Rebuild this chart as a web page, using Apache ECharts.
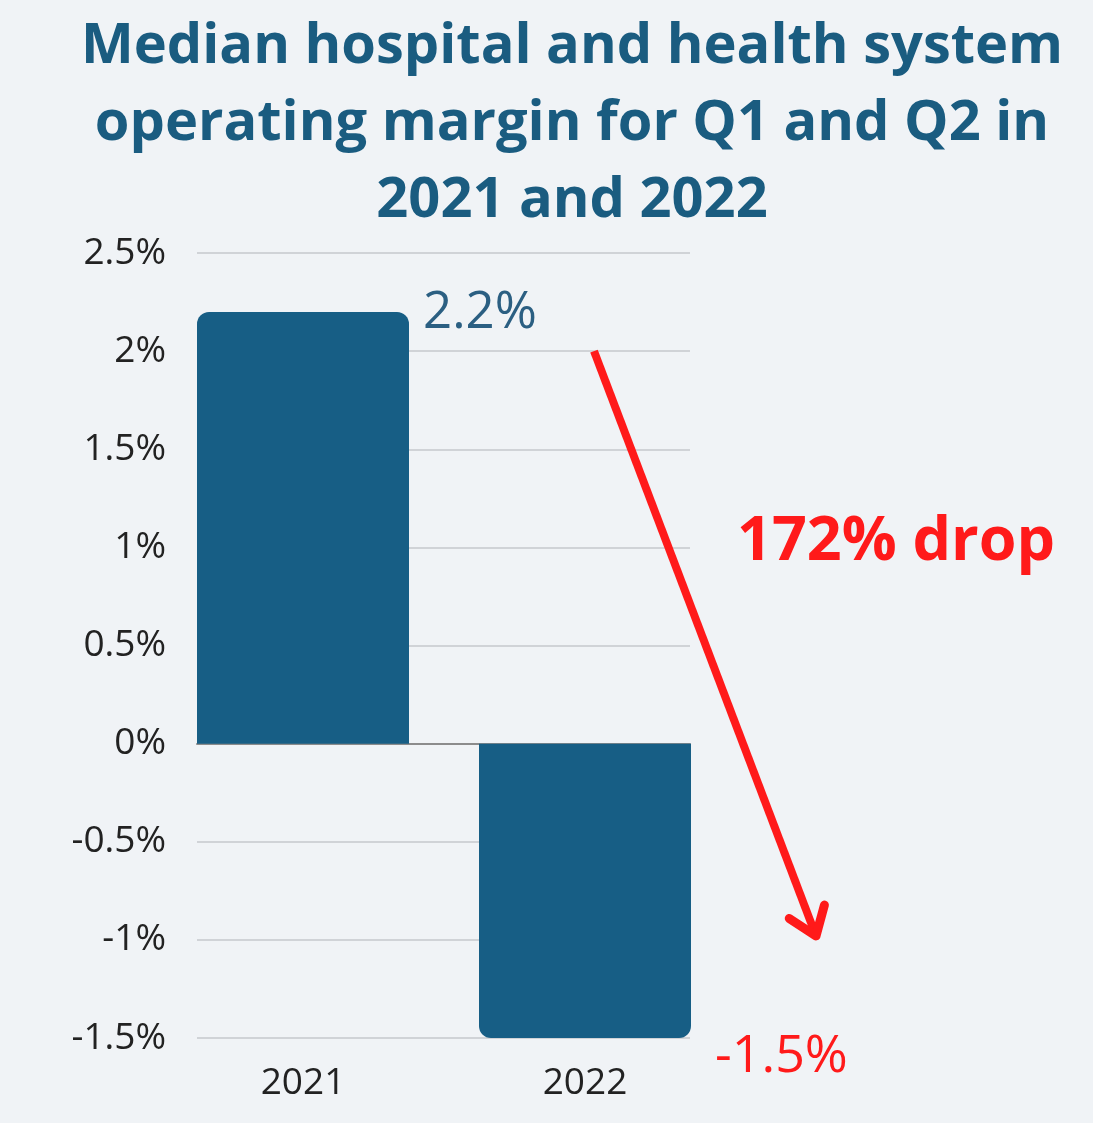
<!DOCTYPE html>
<html>
<head>
<meta charset="utf-8">
<script src="https://cdn.jsdelivr.net/npm/echarts@6/dist/echarts.min.js"></script>
<style>
  html, body { margin: 0; padding: 0; background: #f0f3f6; }
  #chart { width: 1093px; height: 1123px; }
</style>
</head>
<body>
<div id="chart"></div>
<script>
// Median operating margin, first half of each year (%)
const years = ['2021', '2022'];
const margins = [2.2, -1.5];
const yTicks = { min: -1.5, max: 2.5, interval: 0.5 };
const titleText = 'Median hospital and health system\noperating margin for Q1 and Q2 in\n2021 and 2022';
const dropText = '172% drop';

const blue = '#175e85';
const red = '#ff1a1a';
const font = '"Open Sans", "Noto Sans", sans-serif';

function pctLabel(v) {
  return (Math.round(v * 10) / 10) + '%';
}

const chart = echarts.init(document.getElementById('chart'));

chart.setOption({
  backgroundColor: '#f0f3f6',
  animation: false,
  title: {
    text: titleText,
    left: 567,
    top: 4,
    textAlign: 'center',
    textStyle: {
      fontFamily: font,
      fontWeight: 'bold',
      fontSize: 56,
      lineHeight: 77,
      color: '#1a5c80'
    }
  },
  grid: [
    // value axis + gridlines
    { left: 197, right: 403, top: 253, bottom: 85 },
    // bars + year labels
    { left: 162, right: 367, top: 253, bottom: 85 }
  ],
  xAxis: [
    {
      gridIndex: 0,
      type: 'category',
      data: years,
      axisLine: { onZero: true, lineStyle: { color: '#8c8c8c', width: 2 } },
      axisTick: { show: false },
      axisLabel: { show: false }
    },
    {
      gridIndex: 1,
      type: 'category',
      data: years,
      axisLine: { show: false },
      axisTick: { show: false },
      axisLabel: {
        margin: 27,
        fontFamily: font,
        fontSize: 37,
        color: '#222222'
      }
    }
  ],
  yAxis: [
    {
      gridIndex: 0,
      type: 'value',
      min: yTicks.min,
      max: yTicks.max,
      interval: yTicks.interval,
      axisLine: { show: false },
      axisTick: { show: false },
      splitLine: { lineStyle: { color: '#c6c9cc', width: 1.5 } },
      axisLabel: {
        margin: 31,
        fontFamily: font,
        fontSize: 37,
        color: '#222222',
        formatter: pctLabel
      }
    },
    {
      gridIndex: 1,
      type: 'value',
      min: yTicks.min,
      max: yTicks.max,
      interval: yTicks.interval,
      show: false
    }
  ],
  series: [
    {
      type: 'bar',
      xAxisIndex: 1,
      yAxisIndex: 1,
      barWidth: 212,
      z: 3,
      data: margins.map(function (v) {
        const up = v >= 0;
        return {
          value: v,
          itemStyle: {
            color: blue,
            borderRadius: up ? [12, 12, 0, 0] : [0, 0, 12, 12]
          },
          label: {
            show: true,
            position: up ? [226, 2] : [236, 314],
            align: 'left',
            verticalAlign: 'middle',
            fontFamily: font,
            fontSize: up ? 51 : 52,
            color: up ? '#2b5f82' : red,
            formatter: function (p) { return pctLabel(p.value); }
          }
        };
      })
    }
  ]
});

// Red drop arrow running from the 2% line down past the 2022 bar
function drawArrow() {
  const y0 = chart.convertToPixel({ yAxisIndex: 0 }, 2.0);
  const y1 = chart.convertToPixel({ yAxisIndex: 0 }, -0.98);
  const x0 = 594, x1 = 816;
  const ang = Math.atan2(y1 - y0, x1 - x0);
  const arm = 32, spread = Math.PI / 5;
  const a1 = [x1 - arm * Math.cos(ang - spread), y1 - arm * Math.sin(ang - spread)];
  const a2 = [x1 - arm * Math.cos(ang + spread), y1 - arm * Math.sin(ang + spread)];
  chart.setOption({
    graphic: [
      {
        type: 'line',
        shape: { x1: x0, y1: y0, x2: x1, y2: y1 },
        style: { stroke: red, lineWidth: 8, lineCap: 'butt' },
        z: 10
      },
      {
        type: 'polyline',
        shape: { points: [a1, [x1, y1], a2] },
        style: { stroke: red, fill: null, lineWidth: 9, lineCap: 'round', lineJoin: 'round' },
        z: 10
      },
      {
        type: 'text',
        x: 737,
        y: 543,
        style: {
          text: dropText,
          fontFamily: font,
          fontWeight: 'bold',
          fontSize: 61,
          fill: red,
          verticalAlign: 'middle'
        },
        z: 10
      }
    ]
  });
}
drawArrow();
</script>
</body>
</html>
